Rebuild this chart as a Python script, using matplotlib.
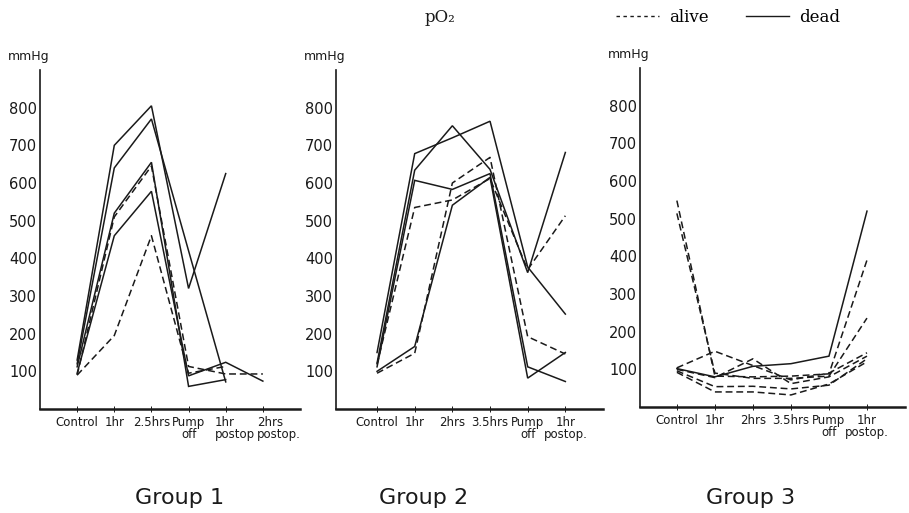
import numpy as np
import matplotlib
matplotlib.use("Agg")
import matplotlib.pyplot as plt
import matplotlib.transforms as mtransforms
from matplotlib.lines import Line2D

nan = np.nan

# Group 1
g1_labels = ["Control", "1hr", "2.5hrs", "Pump\noff", "1hr\npostop", "2hrs\npostop."]
g1_dead = [
    [130, 700, 805, 320, 625, nan],
    [120, 640, 770, 420, 72, nan],
    [112, 520, 655, 60, 78, nan],
    [95, 460, 578, 88, 124, 74],
]
g1_alive = [
    [90, 510, 645, 113, 93, 93],
    [90, 195, 460, 95, 113, nan],
]

# Group 2
g2_labels = ["Control", "1hr", "2hrs", "3.5hrs", "Pump\noff", "1hr\npostop."]
g2_dead = [
    [150, 678, 720, 764, 377, 252],
    [122, 634, 752, 636, 362, 681],
    [112, 607, 583, 625, 112, 73],
    [100, 166, 541, 615, 82, 150],
]
g2_alive = [
    [95, 148, 600, 668, 192, 146],
    [118, 535, 555, 612, 370, 513],
]

# Group 3
g3_labels = ["Control", "1hr", "2hrs", "3.5hrs", "Pump\noff", "1hr\npostop."]
g3_dead = [
    [102, 80, 108, 115, 135, 520],
]
g3_alive = [
    [548, 82, 80, 82, 88, 390],
    [514, 90, 76, 76, 82, 236],
    [104, 148, 110, 72, 90, 144],
    [100, 78, 128, 62, 80, 135],
    [96, 54, 55, 48, 58, 128],
    [92, 40, 40, 32, 61, 120],
]

groups = [
    ("Group 1", g1_labels, g1_dead, g1_alive),
    ("Group 2", g2_labels, g2_dead, g2_alive),
    ("Group 3", g3_labels, g3_dead, g3_alive),
]
yticks = [100, 200, 300, 400, 500, 600, 700, 800]

W, H = 909, 513
# pixel boxes: left, top, right, bottom, xmin, xmax
boxes = [
    (40, 70, 300, 409, -1.0, 6.0),
    (336, 70, 603, 409, -1.09, 6.0),
    (640, 68, 905, 407, -0.97, 6.0),
]
group_x = [180, 424, 751]

ink = "#1a1a1a"
fig = plt.figure(figsize=(W / 100, H / 100), dpi=100)
fig.patch.set_facecolor("white")

for (name, labels, dead, alive), box, gx in zip(groups, boxes, group_x):
    l, t, r, b, x0, x1 = box
    ax = fig.add_axes([l / W, 1 - b / H, (r - l) / W, (b - t) / H])
    x = np.arange(len(labels))
    for s in dead:
        ax.plot(x, s, color=ink, lw=1.1, solid_joinstyle="miter")
    for s in alive:
        ax.plot(x, s, color=ink, lw=1.1, ls=(0, (4.5, 2.5)))
    ax.set_xlim(x0, x1)
    ax.set_ylim(0, 900)
    ax.set_yticks(yticks)
    ax.set_xticks(x)
    ax.set_xticklabels(labels, fontsize=8.5, linespacing=0.95)
    ax.tick_params(axis="y", length=0, pad=2, labelsize=10.5, colors=ink)
    ax.tick_params(axis="x", length=4, width=0.7, direction="inout", pad=3, colors=ink)
    if name == "Group 1":
        # the two postop labels sit left-aligned just before their ticks
        for lab, dx in zip(ax.get_xticklabels()[4:], [-11, -6]):
            shift = mtransforms.ScaledTranslation(dx / 100, 0, fig.dpi_scale_trans)
            lab.set_horizontalalignment("left")
            lab.set_transform(lab.get_transform() + shift)
    for side in ["top", "right"]:
        ax.spines[side].set_visible(False)
    ax.spines["left"].set_linewidth(1.2)
    ax.spines["bottom"].set_linewidth(1.8)
    ax.spines["left"].set_color(ink)
    ax.spines["bottom"].set_color(ink)
    ax.patch.set_alpha(0)
    ax.annotate("mmHg", xy=(0, 1), xycoords="axes fraction", xytext=(-8, 10),
                textcoords="offset points", ha="center", va="center", fontsize=9, color=ink)
    fig.text(gx / W, 1 - 498 / H, name, ha="center", va="center", fontsize=16, color=ink)

fig.text(440 / W, 1 - 18 / H, "pO₂", ha="center", va="center",
         family="DejaVu Serif", fontsize=12, color=ink)
handles = [Line2D([], [], color=ink, lw=1.0, ls=(0, (2.5, 2.5))),
           Line2D([], [], color=ink, lw=1.0)]
fig.legend(handles, ["alive", "dead"], loc="center", bbox_to_anchor=(728 / W, 1 - 17 / H),
           ncol=2, frameon=False, handlelength=2.6, columnspacing=2.2, handletextpad=0.6,
           prop={"family": "DejaVu Serif", "size": 12})

fig.savefig("out.png", dpi=100, facecolor="white")
